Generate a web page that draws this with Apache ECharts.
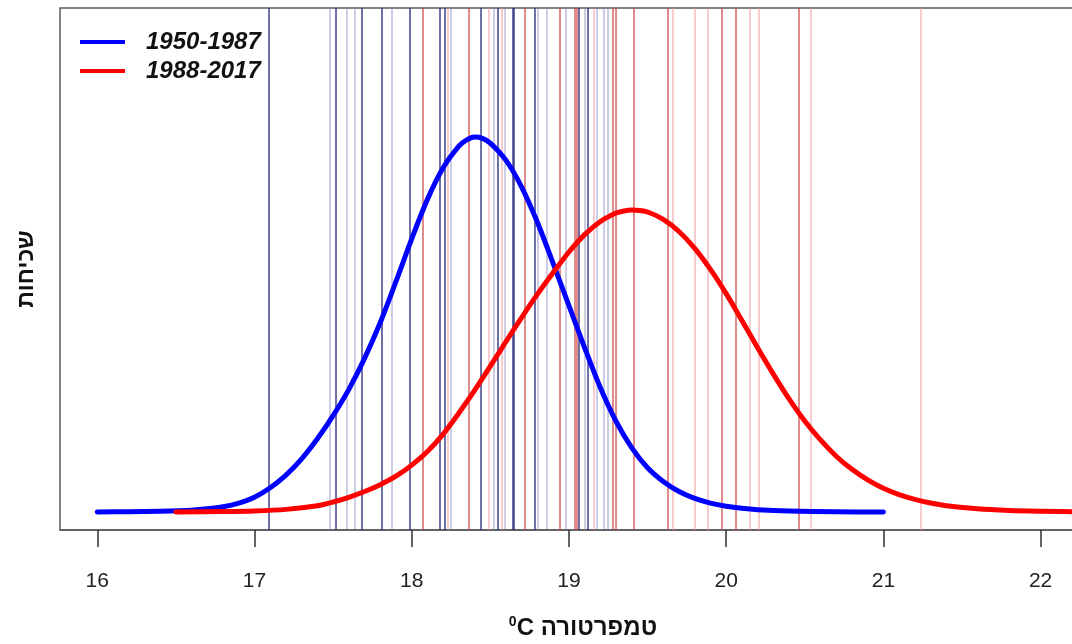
<!DOCTYPE html>
<html lang="he">
<head>
<meta charset="utf-8">
<script src="https://cdn.jsdelivr.net/npm/echarts@6/dist/echarts.min.js"></script>
<style>
html,body{margin:0;padding:0;background:#fff;}
#chart{width:1072px;height:644px;}
</style>
</head>
<body>
<div id="chart"></div>
<script>
// ---- data ----
const xTicks = [16, 17, 18, 19, 20, 21, 22];
const seriesNames = ['1950-1987', '1988-2017'];

// density curve 1950-1987 (temperature, density)
const blueTemp = [16.0, 16.2, 16.4, 16.6, 16.7, 16.8, 16.9, 17.0, 17.1, 17.2, 17.3, 17.4, 17.5, 17.6, 17.7, 17.8, 17.9, 18.0, 18.1, 18.2, 18.3, 18.35, 18.4, 18.45, 18.5, 18.6, 18.7, 18.8, 18.9, 19.0, 19.1, 19.2, 19.3, 19.4, 19.5, 19.6, 19.7, 19.8, 19.9, 20.0, 20.1, 20.2, 20.4, 20.7, 21.0];
const blueDens = [0.000, 0.0005, 0.0015, 0.0035, 0.006, 0.010, 0.017, 0.028, 0.046, 0.070, 0.101, 0.139, 0.183, 0.233, 0.292, 0.360, 0.438, 0.519, 0.594, 0.654, 0.695, 0.707, 0.7125, 0.710, 0.701, 0.668, 0.617, 0.550, 0.472, 0.392, 0.312, 0.236, 0.172, 0.122, 0.084, 0.058, 0.039, 0.026, 0.017, 0.011, 0.007, 0.0045, 0.002, 0.0005, 0.000];

// density curve 1988-2017
const redTemp = [16.5, 16.8, 17.0, 17.2, 17.4, 17.5, 17.6, 17.7, 17.8, 17.9, 18.0, 18.1, 18.2, 18.3, 18.4, 18.5, 18.6, 18.7, 18.8, 18.9, 19.0, 19.1, 19.2, 19.3, 19.35, 19.4, 19.45, 19.5, 19.6, 19.7, 19.8, 19.9, 20.0, 20.1, 20.2, 20.3, 20.4, 20.5, 20.6, 20.7, 20.8, 20.9, 21.0, 21.1, 21.2, 21.3, 21.4, 21.6, 21.8, 22.0, 22.3];
const redDens = [0.000, 0.0008, 0.002, 0.005, 0.012, 0.019, 0.028, 0.039, 0.052, 0.068, 0.089, 0.115, 0.148, 0.188, 0.231, 0.277, 0.324, 0.370, 0.414, 0.455, 0.494, 0.527, 0.552, 0.568, 0.572, 0.574, 0.573, 0.570, 0.556, 0.533, 0.501, 0.461, 0.415, 0.364, 0.312, 0.262, 0.215, 0.173, 0.137, 0.106, 0.081, 0.061, 0.045, 0.033, 0.024, 0.017, 0.012, 0.006, 0.003, 0.0015, 0.000];

// yearly mean temperatures shown as vertical lines
const blueYearsStrong = [17.09, 17.52, 17.68, 17.81, 17.99, 18.18, 18.21, 18.44, 18.55, 18.64, 18.65, 18.78, 19.06, 19.12];
const blueYearsFaint = [17.48, 17.59, 17.64, 17.87, 18.25, 18.52, 18.59, 18.80, 18.86, 18.98, 19.10, 19.18, 19.22, 19.25];
const redYearsStrong = [18.07, 18.36, 18.72, 18.94, 19.04, 19.05, 19.28, 19.30, 19.41, 19.63, 19.97, 20.06, 20.46];
const redYearsFaint = [18.23, 18.49, 18.57, 19.16, 19.66, 19.80, 19.88, 20.15, 20.21, 20.54, 21.24];

// ---- chart ----
const zip = (xs, ys) => xs.map((x, i) => [x, ys[i]]);
const vlines = (name, vals, color) => ({
  name: name,
  type: 'line',
  data: [],
  silent: true,
  z: 1,
  markLine: {
    silent: true,
    symbol: ['none', 'none'],
    label: { show: false },
    emphasis: { disabled: true },
    animation: false,
    lineStyle: { color: color, width: 1.5, type: 'solid', opacity: 1 },
    data: vals.map(v => ({ xAxis: v }))
  }
});

const chart = echarts.init(document.getElementById('chart'), null, { renderer: 'canvas' });
const fontFam = '"Liberation Sans", Arial, "DejaVu Sans", sans-serif';

chart.setOption({
  animation: false,
  backgroundColor: '#ffffff',
  grid: {
    left: 60, top: 8, right: -12, bottom: 114,
    show: true, borderColor: '#5a5a5a', borderWidth: 1.5,
    backgroundColor: 'transparent',
    outerBoundsMode: 'none'
  },
  legend: {
    data: seriesNames,
    orient: 'vertical',
    left: 75, top: 25,
    icon: 'rect',
    itemWidth: 45, itemHeight: 4,
    itemGap: 5,
    selectedMode: false,
    textStyle: {
      fontFamily: fontFam, fontSize: 24, fontWeight: 'bold', fontStyle: 'italic',
      color: '#111', lineHeight: 24, padding: [0, 0, 0, 16]
    }
  },
  xAxis: {
    type: 'value',
    min: 15.763, max: 22.276,
    name: '{s|0}{c|C }{t|טמפרטורה}',
    nameLocation: 'middle',
    nameGap: 85,
    nameTextStyle: {
      fontFamily: fontFam, fontSize: 24, fontWeight: 'bold', color: '#111',
      padding: [0, 0, 0, 22],
      rich: {
        s: { fontFamily: fontFam, fontSize: 14, fontWeight: 'bold', color: '#111', padding: [0, 0, 12, 0] },
        c: { fontFamily: fontFam, fontSize: 24, fontWeight: 'bold', color: '#111' },
        t: { fontFamily: fontFam, fontSize: 24, fontWeight: 'bold', color: '#111' }
      }
    },
    axisLine: { show: true, onZero: false, lineStyle: { color: '#5a5a5a', width: 1.5 } },
    axisTick: { show: true, customValues: xTicks, length: 17, lineStyle: { color: '#333', width: 1.5 } },
    axisLabel: { show: true, customValues: xTicks, margin: 41, fontFamily: fontFam, fontSize: 21, color: '#222' },
    splitLine: { show: false }
  },
  yAxis: {
    type: 'value',
    min: -0.0342, max: 0.9576,
    name: 'שכיחות',
    nameLocation: 'middle',
    nameRotate: 90,
    nameGap: 22,
    nameTextStyle: { fontFamily: fontFam, fontSize: 23, fontWeight: 'bold', color: '#111' },
    axisLine: { show: false },
    axisTick: { show: false },
    axisLabel: { show: false },
    splitLine: { show: false }
  },
  series: [
    vlines('bs', blueYearsStrong, 'rgba(40,40,125,0.88)'),
    vlines('bf', blueYearsFaint, 'rgba(120,120,185,0.5)'),
    vlines('rs', redYearsStrong, 'rgba(200,70,70,0.82)'),
    vlines('rf', redYearsFaint, 'rgba(235,140,150,0.6)'),
    {
      name: seriesNames[0], type: 'line', data: zip(blueTemp, blueDens),
      smooth: 0.3, showSymbol: false, symbol: 'none', z: 5,
      color: '#0000ff',
      lineStyle: { color: '#0000ff', width: 5, cap: 'round', join: 'round' }
    },
    {
      name: seriesNames[1], type: 'line', data: zip(redTemp, redDens),
      smooth: 0.3, showSymbol: false, symbol: 'none', z: 6,
      color: '#ff0000',
      lineStyle: { color: '#ff0000', width: 5, cap: 'round', join: 'round' }
    }
  ]
});
</script>
</body>
</html>
